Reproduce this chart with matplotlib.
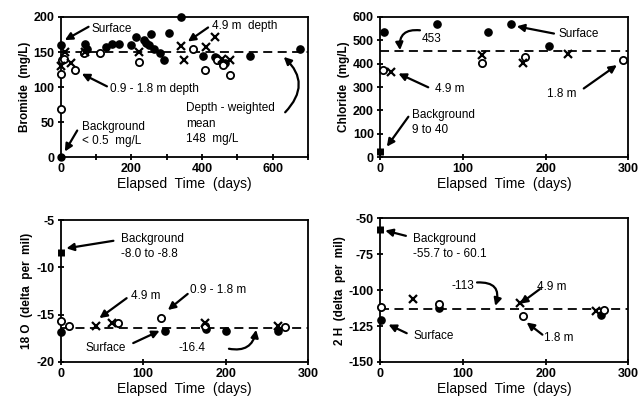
import matplotlib
matplotlib.use("Agg")
import matplotlib.pyplot as plt

plt.rcParams["font.family"] = ["Liberation Sans", "DejaVu Sans"]
plt.rcParams["axes.unicode_minus"] = False

# --- Bromide (mg/L) ---
br_surf_days = [0, 69, 75, 127, 146, 165, 200, 212, 236, 241, 250, 255, 265, 280,
                293, 307, 341, 403, 436, 446, 465, 536, 677]
br_surf_vals = [160, 162, 155, 157, 161, 162, 160, 171, 167, 163, 160, 176, 155, 149,
                138, 177, 200, 145, 143, 138, 134, 144, 155]
br_deep_days = [0, 0, 3, 9, 41, 65, 112, 222, 374, 407, 441, 460, 479]
br_deep_vals = [68, 118, 138, 140, 124, 148, 148, 136, 154, 124, 138, 132, 117]
br_49_days = [0, 12, 29, 69, 222, 341, 350, 412, 436, 455, 479]
br_49_vals = [130, 150, 135, 150, 150, 158, 138, 157, 172, 140, 139]
br_bg = 0
br_line = 150  # dashed line as drawn (labelled 148 mg/L)

# --- Chloride (mg/L) ---
cl_surf_days = [5, 69, 130, 158, 204]
cl_surf_vals = [536, 572, 536, 568, 476]
cl_18_days = [3, 123, 175, 294]
cl_18_vals = [375, 405, 427, 415]
cl_49_days = [13, 123, 173, 227]
cl_49_vals = [365, 436, 401, 440]
cl_bg = (9, 40)
cl_mean = 453

# --- 18O (delta per mil) ---
o_surf_days = [0, 127, 176, 201, 264]
o_surf_vals = [-16.8, -16.7, -16.5, -16.7, -16.7]
o_deep_days = [1, 10, 70, 122, 175, 272]
o_deep_vals = [-15.7, -16.2, -15.9, -15.3, -16.2, -16.3]
o_49_days = [43, 62, 175, 264]
o_49_vals = [-16.2, -15.9, -15.9, -16.2]
o_bg = (-8.0, -8.8)
o_mean = -16.4

# --- 2H (delta per mil) ---
h_surf_days = [1, 71, 267]
h_surf_vals = [-120.6, -112.5, -117]
h_18_days = [1, 71, 173, 270]
h_18_vals = [-111.8, -110, -117.8, -113.7]
h_49_days = [40, 169, 261]
h_49_vals = [-106, -109, -114.8]
h_bg = (-55.7, -60.1)
h_mean = -113

fig = plt.figure(figsize=(6.38, 4.04), dpi=100)
ax_br = fig.add_axes([0.095, 0.611, 0.388, 0.347])
ax_cl = fig.add_axes([0.596, 0.611, 0.389, 0.347])
ax_o = fig.add_axes([0.095, 0.104, 0.388, 0.351])
ax_h = fig.add_axes([0.596, 0.104, 0.389, 0.356])

TXT = dict(fontsize=8.5, color="black")
ARR = dict(arrowstyle="-|>", color="black", lw=1.6, mutation_scale=11,
           shrinkA=0, shrinkB=0)


def series(ax, sd, sv, dd, dv, xd, xv):
    ax.plot(sd, sv, "o", ms=5.2, color="black", clip_on=False, zorder=3)
    ax.plot(dd, dv, "o", ms=5.2, mfc="white", mec="black", mew=1.3,
            clip_on=False, zorder=3)
    ax.plot(xd, xv, "x", ms=6, color="black", mew=1.6, clip_on=False, zorder=3)


def style(ax, xlim, ylim, xticks, yticks, ylabel, minor=None):
    ax.set_xlim(*xlim)
    ax.set_ylim(*ylim)
    ax.set_xticks(xticks)
    if minor is not None:
        ax.set_xticks(minor, minor=True)
    ax.set_yticks(yticks)
    ax.tick_params(direction="inout", length=5, width=1.3, labelsize=9,
                   pad=2)
    ax.tick_params(which="minor", direction="inout", length=5, width=1.3)
    for lab in ax.get_xticklabels() + ax.get_yticklabels():
        lab.set_fontweight("bold")
    for sp in ax.spines.values():
        sp.set_linewidth(1.3)
    ax.set_xlabel("Elapsed  Time  (days)", fontsize=10, labelpad=1)
    ax.set_ylabel(ylabel, fontsize=8.5, fontweight="bold", labelpad=2)


def arrow(ax, head, tail, rad=0.0):
    a = dict(ARR)
    if rad:
        a["connectionstyle"] = f"arc3,rad={rad}"
    ax.annotate("", xy=head, xytext=tail, arrowprops=a)


# Bromide
series(ax_br, br_surf_days, br_surf_vals, br_deep_days, br_deep_vals,
       br_49_days, br_49_vals)
ax_br.plot([0], [br_bg], "o", ms=5, color="black", clip_on=False, zorder=3)
ax_br.axhline(br_line, color="black", lw=1.3, ls=(0, (5, 3)))
style(ax_br, (0, 700), (0, 200), [0, 200, 400, 600], [0, 50, 100, 150, 200],
      "Bromide  (mg/L)", minor=[100, 300, 500, 700])
ax_br.text(86, 183, "Surface", va="center", **TXT)
arrow(ax_br, (12, 167), (79, 186))
ax_br.text(427, 187, "4.9 m  depth", va="center", **TXT)
arrow(ax_br, (360, 165), (417, 185))
ax_br.text(140, 97, "0.9 - 1.8 m depth", va="center", **TXT)
arrow(ax_br, (60, 119), (131, 101))
ax_br.text(355, 48, "Depth - weighted\nmean\n148  mg/L", va="center",
           linespacing=1.35, **TXT)
arrow(ax_br, (631, 143), (635, 64), rad=0.5)
ax_br.text(60, 33, "Background\n< 0.5  mg/L", va="center", linespacing=1.3, **TXT)
arrow(ax_br, (12, 8), (47, 38))

# Chloride
series(ax_cl, cl_surf_days, cl_surf_vals, cl_18_days, cl_18_vals,
       cl_49_days, cl_49_vals)
ax_cl.vlines(0, *cl_bg, color="black", lw=5, clip_on=False, zorder=3)
ax_cl.axhline(cl_mean, color="black", lw=1.3, ls=(0, (5, 3)))
style(ax_cl, (0, 300), (0, 600), [0, 100, 200, 300],
      [0, 100, 200, 300, 400, 500, 600], "Chloride  (mg/L)")
ax_cl.text(50, 504, "453", va="center", **TXT)
arrow(ax_cl, (24, 458), (48, 543), rad=0.6)
ax_cl.text(216, 525, "Surface", va="center", **TXT)
arrow(ax_cl, (165, 560), (210, 529))
ax_cl.text(66, 290, "4.9 m", va="center", **TXT)
arrow(ax_cl, (22, 358), (58, 299))
ax_cl.text(202, 269, "1.8 m", va="center", **TXT)
arrow(ax_cl, (286, 394), (246, 294))
ax_cl.text(38, 148, "Background\n9 to 40", va="center", linespacing=1.3, **TXT)
arrow(ax_cl, (8, 45), (34, 173))

# 18O
series(ax_o, o_surf_days, o_surf_vals, o_deep_days, o_deep_vals,
       o_49_days, o_49_vals)
ax_o.vlines(0, *o_bg, color="black", lw=5, clip_on=False, zorder=3)
ax_o.axhline(o_mean, color="black", lw=1.3, ls=(0, (5, 3)))
style(ax_o, (0, 300), (-20, -5), [0, 100, 200, 300], [-20, -15, -10, -5],
      "18 O  (delta  per  mil)")
ax_o.text(73, -7.75, "Background\n-8.0 to -8.8", va="center", linespacing=1.3, **TXT)
arrow(ax_o, (7, -7.98), (64, -7.18))
ax_o.text(85, -13.0, "4.9 m", va="center", **TXT)
arrow(ax_o, (47, -15.36), (80, -13.25))
ax_o.text(157, -12.4, "0.9 - 1.8 m", va="center", **TXT)
arrow(ax_o, (130, -14.5), (154, -12.8))
ax_o.text(30, -18.5, "Surface", va="center", **TXT)
arrow(ax_o, (120, -16.7), (88, -18.0))
ax_o.text(143, -18.55, "-16.4", va="center", **TXT)
arrow(ax_o, (237, -16.6), (204, -18.6), rad=0.5)

# 2H
series(ax_h, h_surf_days, h_surf_vals, h_18_days, h_18_vals,
       h_49_days, h_49_vals)
ax_h.vlines(0, *h_bg, color="black", lw=5, clip_on=False, zorder=3)
ax_h.axhline(h_mean, color="black", lw=1.3, ls=(0, (5, 3)))
style(ax_h, (0, 300), (-150, -50), [0, 100, 200, 300],
      [-150, -125, -100, -75, -50], "2 H  (delta  per  mil)")
ax_h.text(40, -69.5, "Background\n-55.7 to - 60.1", va="center",
          linespacing=1.3, **TXT)
arrow(ax_h, (6, -58.6), (31, -62.3))
ax_h.text(114, -97, "-113", ha="right", va="center", **TXT)
arrow(ax_h, (139, -111), (117, -94.7), rad=-0.7)
ax_h.text(190, -97.7, "4.9 m", va="center", **TXT)
arrow(ax_h, (169, -109.5), (193, -99.3))
ax_h.text(198, -133, "1.8 m", va="center", **TXT)
arrow(ax_h, (177, -122.5), (196, -131))
ax_h.text(40, -131.7, "Surface", va="center", **TXT)
arrow(ax_h, (10, -124), (32, -130))

fig.savefig("out.png", dpi=100)
